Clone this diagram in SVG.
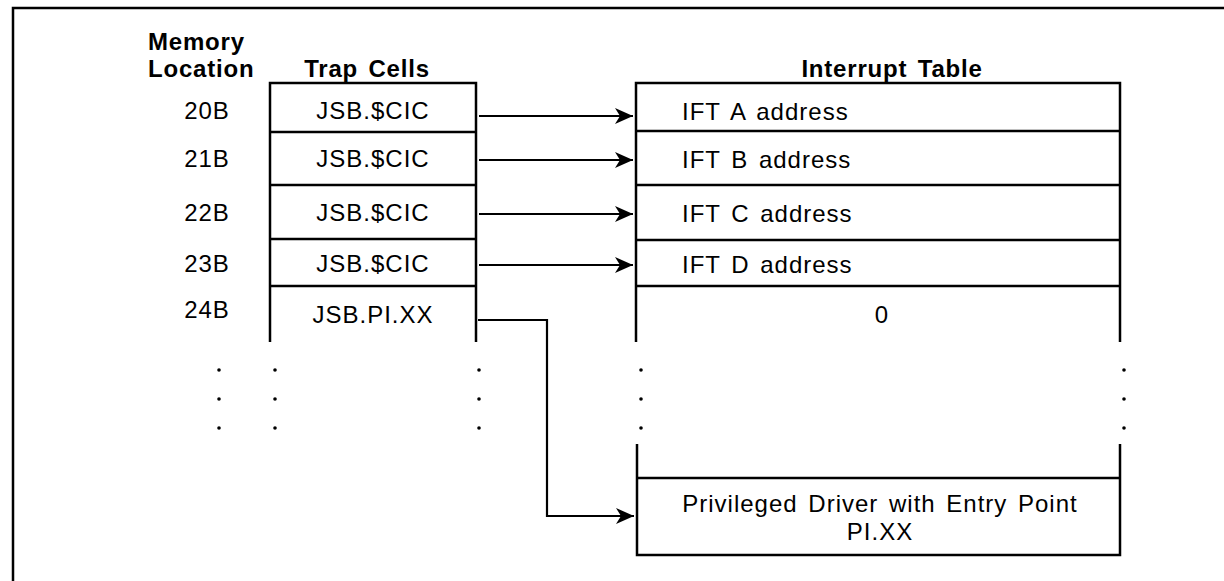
<svg xmlns="http://www.w3.org/2000/svg" width="1224" height="581" viewBox="0 0 1224 581">
<style>
text{font-family:"Liberation Sans",Arial,sans-serif;font-size:24px;letter-spacing:1px;word-spacing:3px;fill:#000}
.h{font-weight:bold;letter-spacing:0.8px}
.m{text-anchor:middle}
.box{fill:none;stroke:#000;stroke-width:2.5}
.ln{fill:none;stroke:#000;stroke-width:2.5}
.con{fill:none;stroke:#000;stroke-width:2.2}
.dot{fill:#000}
</style>
<defs>
<marker id="ah" markerUnits="userSpaceOnUse" markerWidth="20" markerHeight="20" viewBox="0 0 20 20" refX="19" refY="10" orient="auto">
<path d="M1,2 L19,10 L1,18 L6,10 z" fill="#000"/>
</marker>
</defs>
<rect width="1224" height="581" fill="#fff"/>
<g id="frame">
<path class="ln" d="M13,581 V8 H1224"/>
</g>
<g id="headers">
<text class="h" x="148" y="50">Memory</text>
<text class="h" x="148" y="77">Location</text>
<text class="h m" x="367" y="77">Trap Cells</text>
<text class="h m" x="892" y="77">Interrupt Table</text>
</g>
<g id="locations">
<text class="m" x="207" y="119">20B</text>
<text class="m" x="207" y="167">21B</text>
<text class="m" x="207" y="221">22B</text>
<text class="m" x="207" y="272">23B</text>
<text class="m" x="207" y="318">24B</text>
</g>
<g id="trap-cells">
<path class="box" d="M270,342 V83 H476 V342 M270,132 H476 M270,185 H476 M270,239 H476 M270,286 H476"/>
<text class="m" x="373" y="119">JSB.$CIC</text>
<text class="m" x="373" y="167">JSB.$CIC</text>
<text class="m" x="373" y="221">JSB.$CIC</text>
<text class="m" x="373" y="272">JSB.$CIC</text>
<text class="m" x="373" y="323">JSB.PI.XX</text>
</g>
<g id="interrupt-table">
<path class="box" d="M636,342 V83 H1120 V342 M636,131 H1120 M636,185 H1120 M636,240 H1120 M636,286 H1120"/>
<text x="682" y="120">IFT A address</text>
<text x="682" y="168">IFT B address</text>
<text x="682" y="222">IFT C address</text>
<text x="682" y="273">IFT D address</text>
<text class="m" x="882" y="323">0</text>
</g>
<g id="privileged-driver">
<path class="box" d="M637,444 V555 H1120 V444 M637,478 H1120"/>
<text class="m" x="880" y="512">Privileged Driver with Entry Point</text>
<text class="m" x="880" y="540">PI.XX</text>
</g>
<g id="ellipsis-dots" class="dot">
<circle cx="219" cy="370" r="1.8"/><circle cx="219" cy="399" r="1.8"/><circle cx="219" cy="428" r="1.8"/>
<circle cx="275" cy="370" r="1.8"/><circle cx="275" cy="399" r="1.8"/><circle cx="275" cy="428" r="1.8"/>
<circle cx="479" cy="370" r="1.8"/><circle cx="479" cy="399" r="1.8"/><circle cx="479" cy="428" r="1.8"/>
<circle cx="641" cy="370" r="1.8"/><circle cx="641" cy="399" r="1.8"/><circle cx="641" cy="428" r="1.8"/>
<circle cx="1124" cy="370" r="1.8"/><circle cx="1124" cy="399" r="1.8"/><circle cx="1124" cy="428" r="1.8"/>
</g>
<g id="connectors">
<path class="con" d="M479,116 H633" marker-end="url(#ah)"/>
<path class="con" d="M479,160 H633" marker-end="url(#ah)"/>
<path class="con" d="M479,214 H633" marker-end="url(#ah)"/>
<path class="con" d="M479,265 H633" marker-end="url(#ah)"/>
<path class="con" d="M478,320 H547 V516 H634" marker-end="url(#ah)"/>
</g>
</svg>
